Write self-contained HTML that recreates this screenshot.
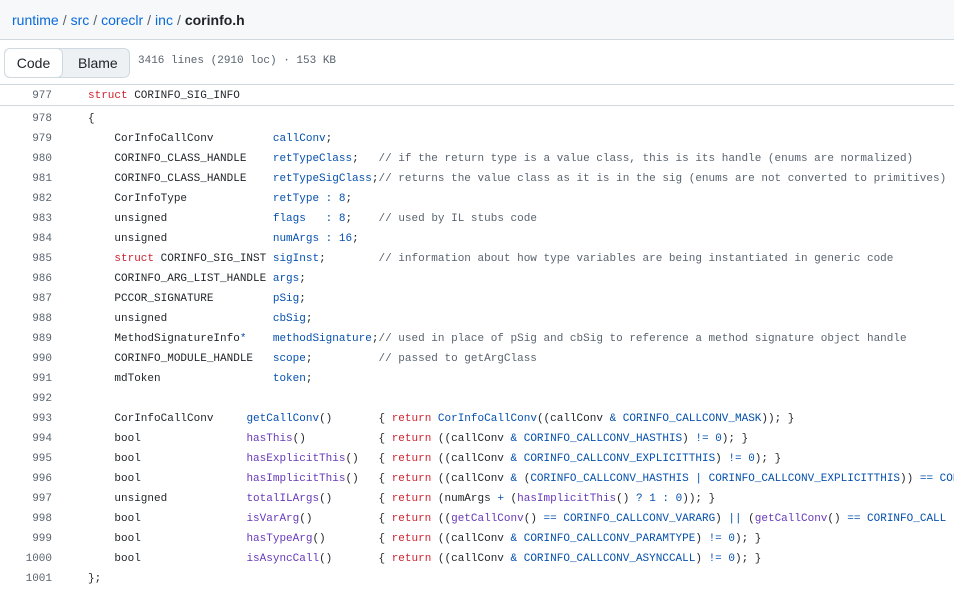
<!DOCTYPE html>
<html><head><meta charset="utf-8"><style>
body{margin:0;width:954px;height:592px;overflow:hidden;background:#fff;font-family:"Liberation Sans",sans-serif;color:#1f2328;position:relative}
.top{position:absolute;left:0;top:0;width:954px;height:39px;background:#f6f8fa;border-bottom:1px solid #d1d9e0}
.bc{position:absolute;left:12px;top:10px;font-size:14px;line-height:20px}
.bc a{color:#0969da;text-decoration:none}.bc .s{color:#59636e;margin:0 4px}.bc b{color:#1f2328}
.seg{position:absolute;left:4px;top:48px;width:124px;height:28px;border:1px solid #d1d9e0;border-radius:6px;background:#eef1f4;font-size:14px}
.seg .cb{position:absolute;left:-1px;top:-1px;width:57px;height:28px;border:1px solid #d1d9e0;border-radius:6px;background:#fff;text-align:center;line-height:28px;color:#1f2328}
.seg .bb{position:absolute;left:73px;top:0;line-height:28px;color:#1f2328}
.info{position:absolute;left:138px;top:55px;font-family:"Liberation Mono",monospace;font-size:11px;color:#59636e}
.hr{position:absolute;left:0;width:954px;height:1px;background:#d1d9e0}
.row{position:absolute;left:0;height:20px;line-height:20px;font-family:"Liberation Mono",monospace;font-size:11px;white-space:pre;width:954px;overflow:hidden}
.n{position:absolute;right:902px;color:#59636e;text-align:right}
.t{position:absolute;left:88px;color:#1f2328}
.k{color:#cf222e}.v{color:#0550ae}.f{color:#6639ba}.c{color:#59636e}
</style></head><body>
<div class="top"><div class="bc"><a>runtime</a><span class="s">/</span><a>src</a><span class="s">/</span><a>coreclr</a><span class="s">/</span><a>inc</a><span class="s">/</span><b>corinfo.h</b></div></div>
<div class="seg"><div class="cb">Code</div><div class="bb">Blame</div></div>
<div class="info">3416 lines (2910 loc) · 153 KB</div>
<div class="hr" style="top:84px"></div>
<div class="row" style="top:86px"><span class="n">977</span><span class="t"><span class="k">struct</span> CORINFO_SIG_INFO</span></div>
<div class="hr" style="top:105px"></div>
<div class="row" style="top:109px"><span class="n">978</span><span class="t">{</span></div>
<div class="row" style="top:129px"><span class="n">979</span><span class="t">    CorInfoCallConv         <span class="v">callConv</span>;</span></div>
<div class="row" style="top:149px"><span class="n">980</span><span class="t">    CORINFO_CLASS_HANDLE    <span class="v">retTypeClass</span>;   <span class="c">// if the return type is a value class, this is its handle (enums are normalized)</span></span></div>
<div class="row" style="top:169px"><span class="n">981</span><span class="t">    CORINFO_CLASS_HANDLE    <span class="v">retTypeSigClass</span>;<span class="c">// returns the value class as it is in the sig (enums are not converted to primitives)</span></span></div>
<div class="row" style="top:189px"><span class="n">982</span><span class="t">    CorInfoType             <span class="v">retType</span> <span class="v">:</span> <span class="v">8</span>;</span></div>
<div class="row" style="top:209px"><span class="n">983</span><span class="t">    unsigned                <span class="v">flags</span>   <span class="v">:</span> <span class="v">8</span>;    <span class="c">// used by IL stubs code</span></span></div>
<div class="row" style="top:229px"><span class="n">984</span><span class="t">    unsigned                <span class="v">numArgs</span> <span class="v">:</span> <span class="v">16</span>;</span></div>
<div class="row" style="top:249px"><span class="n">985</span><span class="t">    <span class="k">struct</span> CORINFO_SIG_INST <span class="v">sigInst</span>;        <span class="c">// information about how type variables are being instantiated in generic code</span></span></div>
<div class="row" style="top:269px"><span class="n">986</span><span class="t">    CORINFO_ARG_LIST_HANDLE <span class="v">args</span>;</span></div>
<div class="row" style="top:289px"><span class="n">987</span><span class="t">    PCCOR_SIGNATURE         <span class="v">pSig</span>;</span></div>
<div class="row" style="top:309px"><span class="n">988</span><span class="t">    unsigned                <span class="v">cbSig</span>;</span></div>
<div class="row" style="top:329px"><span class="n">989</span><span class="t">    MethodSignatureInfo<span class="v">*</span>    <span class="v">methodSignature</span>;<span class="c">// used in place of pSig and cbSig to reference a method signature object handle</span></span></div>
<div class="row" style="top:349px"><span class="n">990</span><span class="t">    CORINFO_MODULE_HANDLE   <span class="v">scope</span>;          <span class="c">// passed to getArgClass</span></span></div>
<div class="row" style="top:369px"><span class="n">991</span><span class="t">    mdToken                 <span class="v">token</span>;</span></div>
<div class="row" style="top:389px"><span class="n">992</span><span class="t"></span></div>
<div class="row" style="top:409px"><span class="n">993</span><span class="t">    CorInfoCallConv     <span class="v">getCallConv</span>()       { <span class="k">return</span> <span class="v">CorInfoCallConv</span>((callConv <span class="v">&amp;</span> <span class="v">CORINFO_CALLCONV_MASK</span>)); }</span></div>
<div class="row" style="top:429px"><span class="n">994</span><span class="t">    bool                <span class="f">hasThis</span>()           { <span class="k">return</span> ((callConv <span class="v">&amp;</span> <span class="v">CORINFO_CALLCONV_HASTHIS</span>) <span class="v">!=</span> <span class="v">0</span>); }</span></div>
<div class="row" style="top:449px"><span class="n">995</span><span class="t">    bool                <span class="f">hasExplicitThis</span>()   { <span class="k">return</span> ((callConv <span class="v">&amp;</span> <span class="v">CORINFO_CALLCONV_EXPLICITTHIS</span>) <span class="v">!=</span> <span class="v">0</span>); }</span></div>
<div class="row" style="top:469px"><span class="n">996</span><span class="t">    bool                <span class="f">hasImplicitThis</span>()   { <span class="k">return</span> ((callConv <span class="v">&amp;</span> (<span class="v">CORINFO_CALLCONV_HASTHIS</span> <span class="v">|</span> <span class="v">CORINFO_CALLCONV_EXPLICITTHIS</span>)) <span class="v">==</span> <span class="v">CORINFO</span></span></div>
<div class="row" style="top:489px"><span class="n">997</span><span class="t">    unsigned            <span class="f">totalILArgs</span>()       { <span class="k">return</span> (numArgs <span class="v">+</span> (<span class="f">hasImplicitThis</span>() <span class="v">?</span> <span class="v">1</span> <span class="v">:</span> <span class="v">0</span>)); }</span></div>
<div class="row" style="top:509px"><span class="n">998</span><span class="t">    bool                <span class="f">isVarArg</span>()          { <span class="k">return</span> ((<span class="f">getCallConv</span>() <span class="v">==</span> <span class="v">CORINFO_CALLCONV_VARARG</span>) <span class="v">||</span> (<span class="f">getCallConv</span>() <span class="v">==</span> <span class="v">CORINFO_CALL</span></span></div>
<div class="row" style="top:529px"><span class="n">999</span><span class="t">    bool                <span class="f">hasTypeArg</span>()        { <span class="k">return</span> ((callConv <span class="v">&amp;</span> <span class="v">CORINFO_CALLCONV_PARAMTYPE</span>) <span class="v">!=</span> <span class="v">0</span>); }</span></div>
<div class="row" style="top:549px"><span class="n">1000</span><span class="t">    bool                <span class="f">isAsyncCall</span>()       { <span class="k">return</span> ((callConv <span class="v">&amp;</span> <span class="v">CORINFO_CALLCONV_ASYNCCALL</span>) <span class="v">!=</span> <span class="v">0</span>); }</span></div>
<div class="row" style="top:569px"><span class="n">1001</span><span class="t">};</span></div>
</body></html>
